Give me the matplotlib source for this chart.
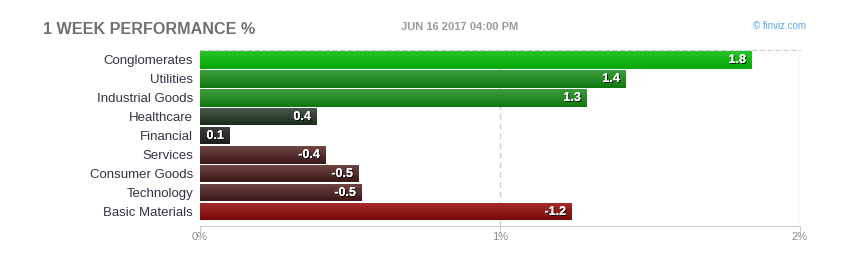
import numpy as np
import matplotlib
matplotlib.use("Agg")
import matplotlib.pyplot as plt
import matplotlib.patheffects as pe
from matplotlib.colors import LinearSegmentedColormap

# Data
sectors = ["Conglomerates", "Utilities", "Industrial Goods", "Healthcare", "Financial",
           "Services", "Consumer Goods", "Technology", "Basic Materials"]
perf = [1.84, 1.42, 1.29, 0.39, 0.10, -0.42, -0.53, -0.54, -1.24]
ticks = [0, 1, 2]

# bar colours (top, bottom of gradient)
bar_colors = [("#26c426", "#06a606"), ("#3c9c3c", "#107810"), ("#3c9c3c", "#107810"),
              ("#4c5c4c", "#1c2c1c"), ("#3e423e", "#1c201c"),
              ("#704646", "#3c1818"), ("#704646", "#3c1818"), ("#704646", "#3c1818"),
              ("#a82c2c", "#780a0a")]

plt.rcParams['font.family'] = ['Liberation Sans', 'DejaVu Sans']

fig = plt.figure(figsize=(8.5, 2.71), dpi=100)
ax = fig.add_axes([200/850, 45/271, 600/850, 176/271])

y = np.arange(len(sectors))
bars = ax.barh(y, np.abs(perf), height=18/19, color="none", zorder=2)

grad = np.linspace(0, 1, 50).reshape(-1, 1)
for b, (c1, c2), v in zip(bars, bar_colors, perf):
    cmap = LinearSegmentedColormap.from_list("g", [c1, c2])
    x0, y0, w, h = b.get_x(), b.get_y(), b.get_width(), b.get_height()
    im = ax.imshow(grad, cmap=cmap, aspect="auto", extent=(x0, x0 + w, y0 + h, y0),
                   zorder=2, interpolation="bilinear")
    im.set_clip_path(b)
    ax.text(x0 + w - 0.02, y0 + h / 2 + 0.02, f"{v:.1f}", ha="right", va="center",
            color="white", fontsize=9, fontweight="bold", zorder=4,
            path_effects=[pe.withSimplePatchShadow(offset=(0.8, -0.8), shadow_rgbFace="black", alpha=0.8),
                          pe.Normal()])

ax.set_xlim(0, 2)
ax.set_ylim(-0.5 + 176/19, -0.5)
ax.set_xticks(ticks)
ax.set_xticklabels([f"{t}%" for t in ticks], color="#8a8a8a", fontsize=8)
ax.set_yticks(y)
ax.set_yticklabels(sectors, color="#333344", fontsize=9.5)
ax.tick_params(axis="y", length=0, pad=5)
ax.tick_params(axis="x", length=4, color="#cccccc", pad=0, direction="out")

for x in [1, 2]:
    ax.axvline(x, color="#cccccc", linestyle=(0, (4, 3)), linewidth=1, zorder=1)
ax.spines["left"].set_visible(False)
ax.spines["right"].set_visible(False)
ax.spines["top"].set_color("#cccccc")
ax.spines["top"].set_linestyle((0, (4, 3)))
ax.spines["bottom"].set_color("#cccccc")

fig.text(43/850, 1 - 29/271, "1 WEEK PERFORMANCE %", color="#707070", fontsize=11.6,
         fontweight="bold", va="center", ha="left")
fig.text(460/850, 1 - 27/271, "JUN 16 2017 04:00 PM", color="#999999", fontsize=8,
         fontweight="bold", va="center", ha="center")
fig.text(806/850, 1 - 26/271, "\u00a9 finviz.com", color="#5aa6e6", fontsize=7,
         va="center", ha="right")

fig.savefig("out.png", dpi=100)
